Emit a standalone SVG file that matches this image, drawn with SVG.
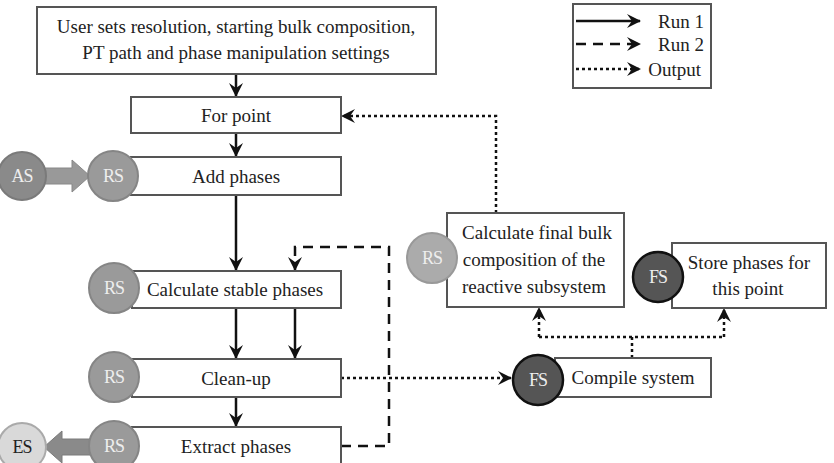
<svg xmlns="http://www.w3.org/2000/svg" width="834" height="463" viewBox="0 0 834 463">
<defs>
<marker id="ah" viewBox="0 0 14 14" refX="13" refY="7" markerWidth="14" markerHeight="14" markerUnits="userSpaceOnUse" orient="auto">
<path d="M0,0 L14,7 L0,14 L5,7 Z" fill="#111"/>
</marker>
</defs>
<style>
.box{fill:#fff;stroke:#555;stroke-width:2}
.t{font-family:"Liberation Serif","DejaVu Serif",serif;font-size:19px;fill:#222;text-anchor:middle}
.ct{font-family:"Liberation Serif","DejaVu Serif",serif;font-size:18px;fill:#eee;text-anchor:middle;letter-spacing:-1px}
.run1{fill:none;stroke:#111;stroke-width:2.5;marker-end:url(#ah)}
.run2{fill:none;stroke:#111;stroke-width:2.5;stroke-dasharray:10,7}
.out{fill:none;stroke:#111;stroke-width:2.5;stroke-dasharray:3,3}
.rs{fill:#9a9a9a;stroke:#858585;stroke-width:2}
.fs{fill:#555;stroke:#111;stroke-width:2.5}
</style>
<rect width="834" height="463" fill="#fff"/>

<g id="legend">
<rect x="573" y="4" width="138" height="84" fill="#fff" stroke="#555" stroke-width="2"/>
<line x1="576" y1="21" x2="640" y2="21" class="run1"/>
<line x1="576" y1="44" x2="640" y2="44" class="run2" marker-end="url(#ah)"/>
<line x1="576" y1="69" x2="640" y2="69" class="out" marker-end="url(#ah)"/>
<text x="704" y="28" class="t" style="text-anchor:end">Run 1</text>
<text x="704" y="51" class="t" style="text-anchor:end">Run 2</text>
<text x="701" y="76" class="t" style="text-anchor:end">Output</text>
</g>

<g id="connectors">
<line x1="236" y1="74" x2="236" y2="96" class="run1"/>
<line x1="236" y1="133" x2="236" y2="156" class="run1"/>
<line x1="236" y1="195" x2="236" y2="270" class="run1"/>
<line x1="236" y1="308" x2="236" y2="358" class="run1"/>
<line x1="295" y1="308" x2="295" y2="358" class="run1"/>
<line x1="236" y1="397" x2="236" y2="426" class="run1"/>
<path d="M341,446 H389 V247 H295 V270" class="run2" marker-end="url(#ah)"/>
<path d="M341,378 H511" class="out" marker-end="url(#ah)"/>
<path d="M496,213 V116 H342" class="out" marker-end="url(#ah)"/>
<path d="M632,358 V337" class="out"/>
<path d="M539,337 H724" class="out"/>
<path d="M539,337 V308" class="out" marker-end="url(#ah)"/>
<path d="M724,337 V309" class="out" marker-end="url(#ah)"/>
<path d="M44,168 H72 V160 L90,176 L72,192 V184 H44 Z" fill="#999" stroke="#888" stroke-width="1"/>
<path d="M90,439 H62 V431 L44,447 L62,463 V455 H90 Z" fill="#8a8a8a" stroke="#7a7a7a" stroke-width="1"/>
</g>

<g id="n-user">
<rect x="37" y="7" width="399" height="67" class="box"/>
<text x="236" y="33" class="t">User sets resolution, starting bulk composition,</text>
<text x="236" y="59" class="t">PT path and phase manipulation settings</text>
</g>

<g id="n-forpoint">
<rect x="131" y="97" width="210" height="36" class="box"/>
<text x="236" y="122" class="t">For point</text>
</g>

<g id="n-addphases">
<rect x="131" y="157" width="210" height="38" class="box"/>
<text x="236" y="183" class="t">Add phases</text>
<circle cx="113" cy="176" r="25" class="rs"/>
<text x="113" y="182" class="ct">RS</text>
</g>

<g id="n-as">
<circle cx="22" cy="176" r="24" fill="#8a8a8a" stroke="#7a7a7a" stroke-width="2"/>
<text x="22" y="182" class="ct">AS</text>
</g>

<g id="n-calcstable">
<rect x="132" y="271" width="209" height="37" class="box"/>
<text x="235" y="296" class="t">Calculate stable phases</text>
<circle cx="114" cy="288" r="25" class="rs"/>
<text x="114" y="294" class="ct">RS</text>
</g>

<g id="n-cleanup">
<rect x="132" y="359" width="209" height="38" class="box"/>
<text x="236" y="385" class="t">Clean-up</text>
<circle cx="114" cy="377" r="25" class="rs"/>
<text x="114" y="383" class="ct">RS</text>
</g>

<g id="n-extract">
<rect x="132" y="427" width="209" height="40" class="box"/>
<text x="236" y="453" class="t">Extract phases</text>
<circle cx="114" cy="446" r="25" class="rs"/>
<text x="114" y="452" class="ct">RS</text>
</g>

<g id="n-es">
<circle cx="22" cy="447" r="24" fill="#d9d9d9" stroke="#aaa" stroke-width="2"/>
<text x="22" y="453" class="ct" style="fill:#222">ES</text>
</g>

<g id="n-calcfinal">
<rect x="447" y="213" width="177" height="94" class="box"/>
<text x="537" y="239" class="t">Calculate final bulk</text>
<text x="534" y="266" class="t">composition of the</text>
<text x="534" y="293" class="t">reactive subsystem</text>
<circle cx="432" cy="258" r="25" fill="#ababab" stroke="#999" stroke-width="2"/>
<text x="432" y="264" class="ct">RS</text>
</g>

<g id="n-store">
<rect x="672" y="243" width="154" height="65" class="box"/>
<text x="749" y="269" class="t">Store phases  for</text>
<text x="748" y="295" class="t">this point</text>
<circle cx="658" cy="277" r="25" class="fs"/>
<text x="658" y="283" class="ct">FS</text>
</g>

<g id="n-compile">
<rect x="555" y="358" width="156" height="39" class="box"/>
<text x="633" y="384" class="t">Compile system</text>
<circle cx="538" cy="380" r="25" class="fs"/>
<text x="538" y="386" class="ct">FS</text>
</g>
</svg>
